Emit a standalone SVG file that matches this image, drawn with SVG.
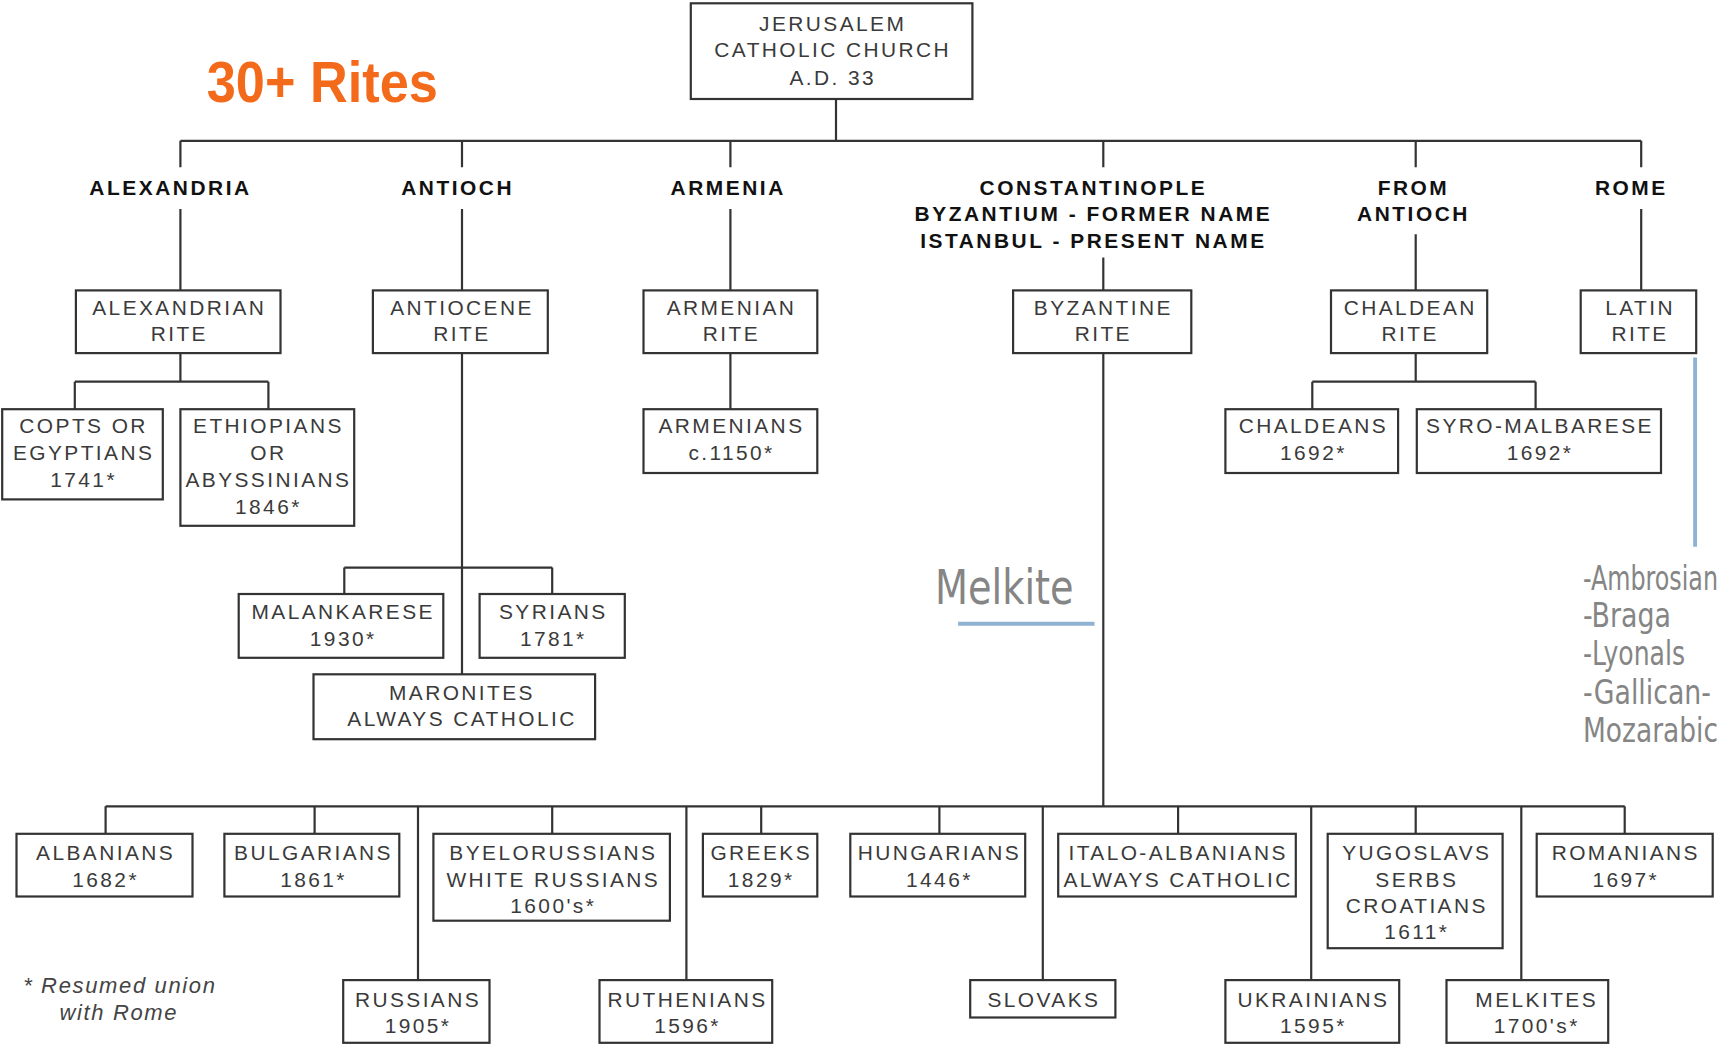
<svg xmlns="http://www.w3.org/2000/svg" width="1725" height="1045" viewBox="0 0 1725 1045">
<style>
.bx{fill:#fff;stroke:#333;stroke-width:2}
.t{font-family:"Liberation Sans",Arial,sans-serif;font-size:19px;fill:#3a3a3a;text-anchor:middle;letter-spacing:2.2px}
.h{font-family:"Liberation Sans",Arial,sans-serif;font-size:19px;font-weight:bold;fill:#111;text-anchor:middle;letter-spacing:2.3px}
.ln{stroke:#333;stroke-width:2;fill:none}
.bl{stroke:#8fb2d2;stroke-width:3.5;fill:none}
.g{font-family:"Liberation Sans Narrow","DejaVu Sans Condensed","Liberation Sans",sans-serif;fill:#858585}
.fn{font-family:"Liberation Sans",Arial,sans-serif;font-size:20px;font-style:italic;fill:#444;text-anchor:middle;letter-spacing:1.5px}
</style>
<rect width="1725" height="1045" fill="#fff"/>
<g transform="scale(1.1)">
<g id="connectors">
<path class="ln" d="M760 90V128M164 128H1492M164 128V152M420 128V152M664 128V152M1003 128V152M1287 128V152M1492 128V152"/>
<path class="ln" d="M164 190V264M420 190V264M664 190V264M1003 234V264M1287 213V264M1492 190V264"/>
<path class="ln" d="M164 321V347M68 347H244M68 347V372M244 347V372"/>
<path class="ln" d="M420 321V613M313 516H502M313 516V540M502 516V540"/>
<path class="ln" d="M664 321V372"/>
<path class="ln" d="M1287 321V347M1193 347H1396M1193 347V372M1396 347V372"/>
<path class="ln" d="M1003 321V733M96 733H1477"/>
<path class="ln" d="M96 733V758M286 733V758M380 733V891M502 733V758M624 733V891M692 733V758M854 733V758M948 733V891M1071 733V758M1192 733V891M1287 733V758M1383 733V891M1477 733V758"/>
<path class="bl" d="M1541 325V497"/>
<path class="bl" d="M871 567H995"/>
</g>
<g id="title"><text x="188" y="93" font-family="'Liberation Sans Narrow','Liberation Sans',sans-serif" font-size="52" font-weight="bold" fill="#f26a1a" textLength="210" lengthAdjust="spacingAndGlyphs">30+ Rites</text></g>
<g id="jerusalem"><rect class="bx" x="628" y="3" width="256" height="87"/><text class="t" x="757" y="28">JERUSALEM</text><text class="t" x="757" y="52">CATHOLIC CHURCH</text><text class="t" x="757" y="77">A.D. 33</text></g>
<g id="h-alexandria"><text class="h" x="155" y="177">ALEXANDRIA</text></g>
<g id="h-antioch"><text class="h" x="416" y="177">ANTIOCH</text></g>
<g id="h-armenia"><text class="h" x="662" y="177">ARMENIA</text></g>
<g id="h-constantinople"><text class="h" x="994" y="177">CONSTANTINOPLE</text><text class="h" x="994" y="201">BYZANTIUM - FORMER NAME</text><text class="h" x="994" y="225">ISTANBUL - PRESENT NAME</text></g>
<g id="h-fromantioch"><text class="h" x="1285" y="177">FROM</text><text class="h" x="1285" y="201">ANTIOCH</text></g>
<g id="h-rome"><text class="h" x="1483" y="177">ROME</text></g>
<g id="alexandrian"><rect class="bx" x="69" y="264" width="186" height="57"/><text class="t" x="163" y="286">ALEXANDRIAN</text><text class="t" x="163" y="310">RITE</text></g>
<g id="antiocene"><rect class="bx" x="339" y="264" width="159" height="57"/><text class="t" x="420" y="286">ANTIOCENE</text><text class="t" x="420" y="310">RITE</text></g>
<g id="armenian"><rect class="bx" x="585" y="264" width="158" height="57"/><text class="t" x="665" y="286">ARMENIAN</text><text class="t" x="665" y="310">RITE</text></g>
<g id="byzantine"><rect class="bx" x="921" y="264" width="162" height="57"/><text class="t" x="1003" y="286">BYZANTINE</text><text class="t" x="1003" y="310">RITE</text></g>
<g id="chaldean"><rect class="bx" x="1210" y="264" width="142" height="57"/><text class="t" x="1282" y="286">CHALDEAN</text><text class="t" x="1282" y="310">RITE</text></g>
<g id="latin"><rect class="bx" x="1437" y="264" width="105" height="57"/><text class="t" x="1491" y="286">LATIN</text><text class="t" x="1491" y="310">RITE</text></g>
<g id="copts"><rect class="bx" x="2" y="372" width="146" height="82"/><text class="t" x="76" y="394">COPTS OR</text><text class="t" x="76" y="418">EGYPTIANS</text><text class="t" x="76" y="443">1741*</text></g>
<g id="ethiopians"><rect class="bx" x="164" y="372" width="158" height="106"/><text class="t" x="244" y="394">ETHIOPIANS</text><text class="t" x="244" y="418">OR</text><text class="t" x="244" y="443">ABYSSINIANS</text><text class="t" x="244" y="467">1846*</text></g>
<g id="armenians"><rect class="bx" x="585" y="372" width="158" height="58"/><text class="t" x="665" y="394">ARMENIANS</text><text class="t" x="665" y="418">c.1150*</text></g>
<g id="chaldeans"><rect class="bx" x="1114" y="372" width="157" height="58"/><text class="t" x="1194" y="394">CHALDEANS</text><text class="t" x="1194" y="418">1692*</text></g>
<g id="syromalbarese"><rect class="bx" x="1288" y="372" width="222" height="58"/><text class="t" x="1400" y="394">SYRO-MALBARESE</text><text class="t" x="1400" y="418">1692*</text></g>
<g id="malankarese"><rect class="bx" x="217" y="540" width="186" height="58"/><text class="t" x="312" y="563">MALANKARESE</text><text class="t" x="312" y="587">1930*</text></g>
<g id="syrians"><rect class="bx" x="436" y="540" width="132" height="58"/><text class="t" x="503" y="563">SYRIANS</text><text class="t" x="503" y="587">1781*</text></g>
<g id="maronites"><rect class="bx" x="285" y="613" width="256" height="59"/><text class="t" x="420" y="636">MARONITES</text><text class="t" x="420" y="660">ALWAYS CATHOLIC</text></g>
<g id="melkite-label"><text class="g" x="850" y="549" font-size="44" textLength="126" lengthAdjust="spacingAndGlyphs">Melkite</text></g>
<g id="albanians"><rect class="bx" x="15" y="758" width="160" height="57"/><text class="t" x="96" y="782">ALBANIANS</text><text class="t" x="96" y="806">1682*</text></g>
<g id="bulgarians"><rect class="bx" x="204" y="758" width="159" height="57"/><text class="t" x="285" y="782">BULGARIANS</text><text class="t" x="285" y="806">1861*</text></g>
<g id="byelorussians"><rect class="bx" x="394" y="758" width="215" height="79"/><text class="t" x="503" y="782">BYELORUSSIANS</text><text class="t" x="503" y="806">WHITE RUSSIANS</text><text class="t" x="503" y="830">1600's*</text></g>
<g id="greeks"><rect class="bx" x="639" y="758" width="104" height="57"/><text class="t" x="692" y="782">GREEKS</text><text class="t" x="692" y="806">1829*</text></g>
<g id="hungarians"><rect class="bx" x="773" y="758" width="159" height="57"/><text class="t" x="854" y="782">HUNGARIANS</text><text class="t" x="854" y="806">1446*</text></g>
<g id="italoalbanians"><rect class="bx" x="962" y="758" width="216" height="57"/><text class="t" x="1071" y="782">ITALO-ALBANIANS</text><text class="t" x="1071" y="806">ALWAYS CATHOLIC</text></g>
<g id="yugoslavs"><rect class="bx" x="1207" y="758" width="159" height="104"/><text class="t" x="1288" y="782">YUGOSLAVS</text><text class="t" x="1288" y="806">SERBS</text><text class="t" x="1288" y="830">CROATIANS</text><text class="t" x="1288" y="854">1611*</text></g>
<g id="romanians"><rect class="bx" x="1397" y="758" width="160" height="57"/><text class="t" x="1478" y="782">ROMANIANS</text><text class="t" x="1478" y="806">1697*</text></g>
<g id="russians"><rect class="bx" x="312" y="891" width="133" height="57"/><text class="t" x="380" y="915">RUSSIANS</text><text class="t" x="380" y="939">1905*</text></g>
<g id="ruthenians"><rect class="bx" x="545" y="891" width="157" height="57"/><text class="t" x="625" y="915">RUTHENIANS</text><text class="t" x="625" y="939">1596*</text></g>
<g id="slovaks"><rect class="bx" x="882" y="891" width="132" height="34"/><text class="t" x="949" y="915">SLOVAKS</text></g>
<g id="ukrainians"><rect class="bx" x="1114" y="891" width="158" height="57"/><text class="t" x="1194" y="915">UKRAINIANS</text><text class="t" x="1194" y="939">1595*</text></g>
<g id="melkites"><rect class="bx" x="1315" y="891" width="147" height="57"/><text class="t" x="1397" y="915">MELKITES</text><text class="t" x="1397" y="939">1700's*</text></g>
<g id="footnote"><text class="fn" x="109" y="903">* Resumed union</text><text class="fn" x="108" y="927">with Rome</text></g>
</g>
<g id="latin-rites" class="g" font-size="33">
<text x="1583" y="590" textLength="135" lengthAdjust="spacingAndGlyphs">-Ambrosian</text>
<text x="1583" y="627" textLength="88" lengthAdjust="spacingAndGlyphs">-Braga</text>
<text x="1583" y="665" textLength="102" lengthAdjust="spacingAndGlyphs">-Lyonals</text>
<text x="1583" y="704" textLength="128" lengthAdjust="spacingAndGlyphs">-Gallican-</text>
<text x="1583" y="742" textLength="135" lengthAdjust="spacingAndGlyphs">Mozarabic</text>
</g>
</svg>
